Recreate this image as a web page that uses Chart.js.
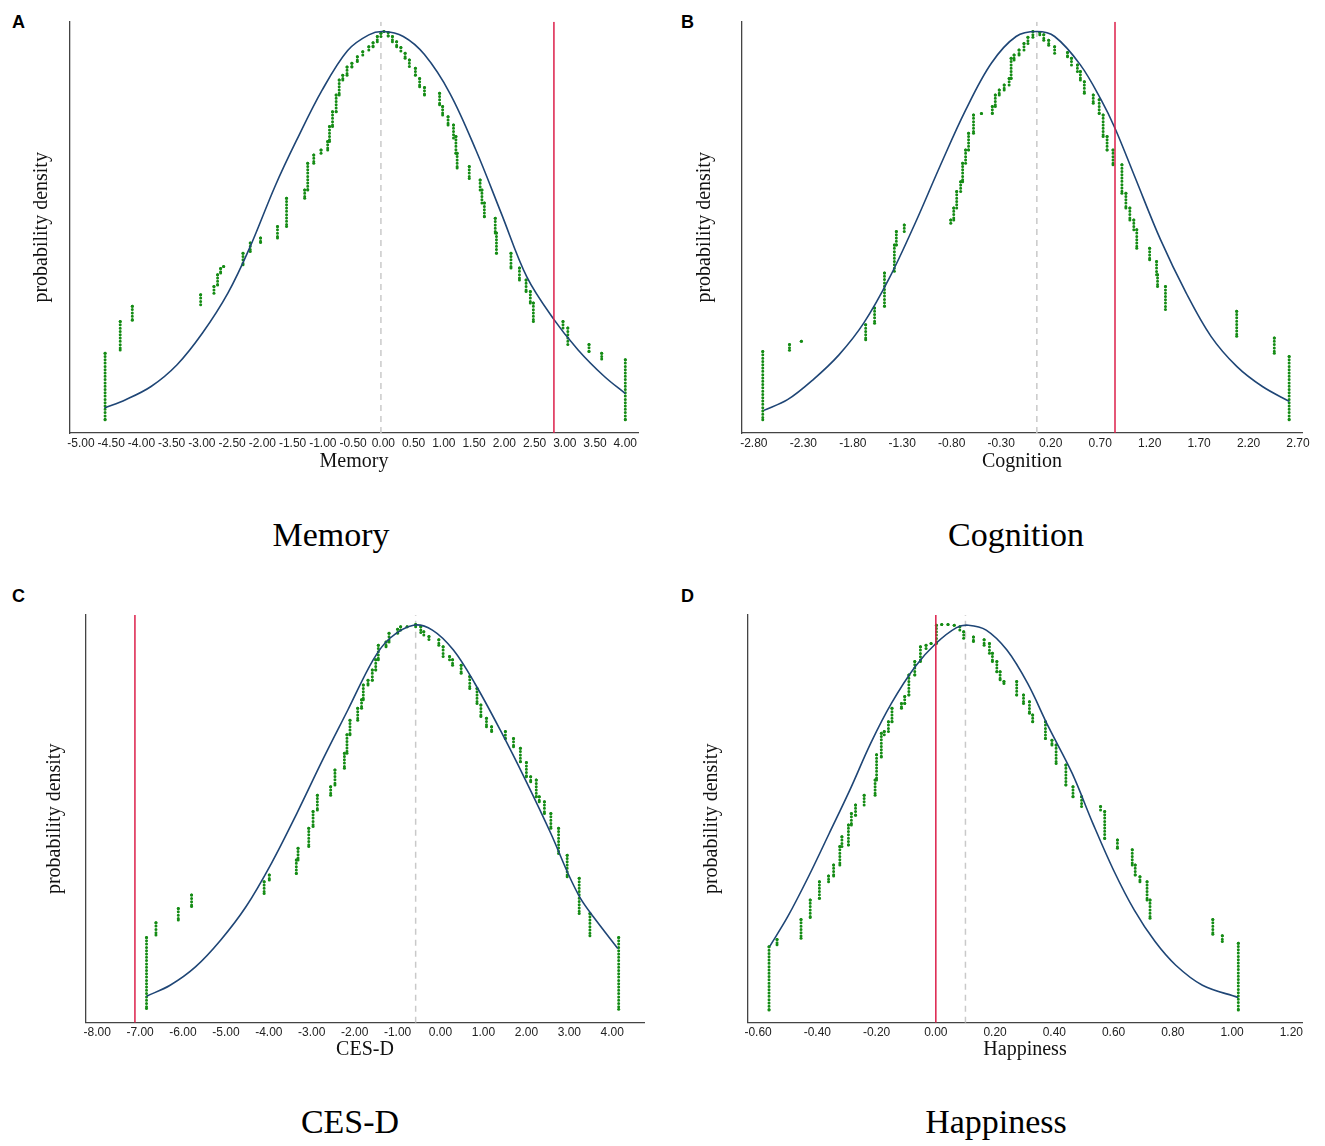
<!DOCTYPE html>
<html>
<head>
<meta charset="utf-8">
<script src="https://cdn.jsdelivr.net/npm/chart.js@4.4.0/dist/chart.umd.min.js"></script>
<style>
  body { margin: 0; background: #fff; width: 1325px; height: 1146px; position: relative; overflow: hidden; }
  .letter { position: absolute; font: bold 18px "Liberation Sans", Arial, sans-serif; line-height: 18px; color: #000; }
  .big { position: absolute; font: 34px "Liberation Serif", "Times New Roman", serif; line-height: 34px; color: #000; transform: translateX(-50%); white-space: nowrap; }
</style>
</head>
<body>
<div class="letter" style="left:12px;top:13px">A</div>
<div class="letter" style="left:681px;top:13px">B</div>
<div class="letter" style="left:12px;top:587px">C</div>
<div class="letter" style="left:681px;top:587px">D</div>
<div class="big" style="left:331px;top:518px">Memory</div>
<div class="big" style="left:1016px;top:518px">Cognition</div>
<div class="big" style="left:350px;top:1105px">CES-D</div>
<div class="big" style="left:996px;top:1105px">Happiness</div>

<script>
// Memory (A): columns of stacked dots, x position, top and bottom height
const memColX = [-4.6, -4.35, -4.15, -3.02, -2.8, -2.74, -2.69, -2.64, -2.32, -2.2,
  -2.03, -1.75, -1.6, -1.3, -1.25, -1.15, -1.03, -0.92, -0.89, -0.84,
  -0.78, -0.73, -0.67, -0.6, -0.52, -0.43, -0.34, -0.24, -0.17, -0.1,
  -0.04, 0.01, 0.08, 0.15, 0.22, 0.29, 0.36, 0.43, 0.53, 0.6,
  0.68, 0.93, 0.98, 1.07, 1.16, 1.2, 1.22, 1.42, 1.6, 1.63,
  1.67, 1.85, 1.87, 2.11, 2.25, 2.36, 2.43, 2.48, 2.97, 3.05,
  3.4, 3.61, 4.0];
const memTop = [19.4, 27.1, 30.8, 33.6, 35.6, 38.5, 40, 40.5, 43.7, 46.2,
  47.4, 50.2, 57.1, 59.1, 65.6, 67.6, 68.8, 70.9, 74.5, 78.1,
  82.2, 85.8, 87, 89, 89.9, 91.5, 92.7, 93.9, 94.9, 96.4,
  97.2, 97.6, 97.4, 96.4, 95.1, 93.7, 92.3, 90.7, 88.7, 86.2,
  84, 82.6, 79.4, 76.9, 74.9, 72.1, 68, 64.8, 61.5, 59.1,
  55.9, 52.2, 48.6, 43.7, 40.1, 37.2, 34.4, 31.6, 27.1, 25.5,
  21.5, 19.4, 17.8];
const memBottom = [3.2, 20.2, 27.4, 31.2, 34, 36, 38.9, 40.5, 40.9, 44.1,
  46.3, 47.4, 50.2, 57.1, 59.1, 65.6, 68, 68.8, 70.9, 74.5,
  78.1, 82.2, 85.8, 87, 89, 90.3, 91.9, 93.1, 93.9, 95.1,
  96.4, 97.6, 96.5, 95.1, 93.9, 92.9, 91.1, 89.1, 87, 84.2,
  82.2, 79.8, 77.3, 74.9, 71.7, 68, 64.4, 61.9, 59.1, 55.9,
  52.6, 48.6, 43.7, 40.1, 37.2, 34.4, 31.6, 27.1, 25.5, 21.5,
  19.8, 18, 3.2];
const memCurveX = [-4.61, -4.26, -3.84, -3.41, -2.99, -2.57, -2.21, -1.79, -1.44, -1.01, -0.59, -0.24, 0,
  0.33, 0.68, 1.1, 1.53, 1.95, 2.37, 2.8, 3.22, 3.65, 4.0];
const memCurveY = [6.1, 8.1, 11.3, 16.6, 24.3, 34, 45, 60, 71, 83.4, 93, 96.8, 97.6,
  96.4, 92, 82.6, 68.8, 53.4, 38, 28, 20.2, 13.8, 9.6];
const memTicks = [-5, -4.5, -4, -3.5, -3, -2.5, -2, -1.5, -1, -0.5, 0, 0.5, 1, 1.5, 2, 2.5, 3, 3.5, 4];
const memMean = -0.04;
const memCut = 2.82;

// Cognition (B)
const cogColX = [-2.71, -2.44, -2.32, -1.67, -1.58, -1.48, -1.38, -1.36, -1.28, -0.81,
  -0.78, -0.75, -0.71, -0.69, -0.66, -0.63, -0.58, -0.5, -0.39, -0.36,
  -0.32, -0.27, -0.22, -0.2, -0.17, -0.12, -0.07, -0.03, 0.02, 0.09,
  0.13, 0.18, 0.24, 0.37, 0.41, 0.47, 0.5, 0.54, 0.63, 0.69,
  0.73, 0.77, 0.83, 0.92, 0.96, 1.0, 1.04, 1.07, 1.2, 1.27,
  1.28, 1.36, 2.08, 2.46, 2.61];
const cogTop = [19.8, 21.5, 22.3, 26.3, 30.4, 38.9, 45.7, 49, 50.6, 51.8,
  54.7, 58.7, 61.1, 65.6, 68.8, 72.9, 77.3, 77.7, 79.4, 82.2,
  83.4, 84.6, 86.2, 91.1, 91.9, 93.1, 94.7, 96.2, 97.6, 97.4,
  96.8, 95.5, 93.9, 92.5, 91.1, 89.5, 87.9, 85.4, 82.2, 81,
  77.3, 72.1, 68.8, 65.2, 58.3, 54.7, 51.8, 49.4, 44.9, 41.7,
  38.5, 35.6, 29.6, 23.1, 18.6];
const cogBottom = [3.2, 20.1, 22.3, 22.7, 26.7, 30.8, 39.3, 45.7, 49, 51,
  51.8, 54.7, 58.7, 61.1, 65.6, 68.8, 72.9, 77.7, 77.7, 79.4,
  82.2, 83.4, 84.6, 86.2, 90.7, 91.9, 93.1, 94.7, 96.2, 96.8,
  95.5, 94.3, 92.3, 91.5, 89.5, 87.9, 85.8, 82.6, 80.2, 77.7,
  72.1, 68.8, 65.2, 58.3, 54.7, 51.8, 49.4, 44.9, 42.1, 38.5,
  35.6, 30, 23.5, 19.4, 3.2];
const cogCurveX = [-2.7, -2.46, -2.2, -1.94, -1.69, -1.43, -1.17, -0.92, -0.66, -0.4, -0.15, 0.06,
  0.24, 0.5, 0.71, 0.85, 1.05, 1.31, 1.57, 1.82, 2.08, 2.34, 2.61];
const cogCurveY = [5.5, 8.1, 13, 19, 26.7, 37.7, 51, 64.8, 78.5, 89.9, 96.4, 97.6,
  96.4, 89.5, 81, 74.1, 62.3, 47, 34, 23.5, 16.2, 11.3, 7.7];
const cogTicks = [-2.8, -2.3, -1.8, -1.3, -0.8, -0.3, 0.2, 0.7, 1.2, 1.7, 2.2, 2.7];
const cogMean = 0.06;
const cogCut = 0.85;

// CES-D (C)
const cesColX = [-6.85, -6.63, -6.11, -5.8, -4.11, -3.99, -3.36, -3.32, -3.07, -2.97,
  -2.87, -2.56, -2.46, -2.24, -2.18, -2.11, -1.93, -1.84, -1.8, -1.69,
  -1.59, -1.51, -1.45, -1.27, -1.2, -1.0, -0.93, -0.78, -0.58, -0.46,
  -0.39, -0.27, -0.04, 0.06, 0.21, 0.28, 0.48, 0.68, 0.85, 0.94,
  1.07, 1.19, 1.51, 1.7, 1.86, 2.0, 2.1, 2.23, 2.3, 2.42,
  2.57, 2.75, 2.95, 3.23, 3.48, 4.15];
const cesTop = [20.9, 24.5, 28, 31.3, 34.6, 36.2, 39.9, 42.8, 47.7, 51.8,
  55.8, 57.9, 62, 66.1, 70.6, 74.2, 77.1, 79.2, 82.8, 84,
  86.5, 89, 92.6, 93.4, 95.5, 96.5, 97.1, 97.1, 97.7, 97.1,
  95.9, 94.7, 93.9, 92.2, 89.8, 89, 87.7, 84.9, 82, 77.9,
  74.7, 72.6, 71.4, 69.7, 67.3, 63.8, 60.3, 59.5, 55.4, 54.2,
  51.3, 47.7, 41.1, 35.4, 26.8, 20.9];
const cesBottom = [3.5, 21.5, 25.2, 28.5, 31.7, 35, 36.6, 39.9, 43.2, 48.1,
  52.2, 55.8, 58.3, 62.4, 66.1, 70.6, 74.2, 77.1, 79.2, 82.8,
  84, 86.5, 89, 92.2, 93.4, 95.5, 96.3, 97.1, 97.1, 95.7,
  95.1, 94, 92.6, 89.8, 89, 87.7, 85.7, 82, 78.3, 75.1,
  72.6, 71.4, 69.7, 67.7, 64, 60.3, 59.1, 55.4, 54.2, 51.3,
  47.7, 41.5, 35.8, 26.8, 21.3, 3.3];
const cesCurveX = [-6.85, -6.3, -5.71, -5.12, -4.53, -3.94, -3.35, -2.75, -2.16, -1.57, -1.18, -0.63,
  -0.19, 0.3, 0.8, 1.39, 1.98, 2.57, 2.97, 3.26, 3.56, 4.13];
const cesCurveY = [6.5, 9.2, 13.7, 20.3, 28.5, 39.1, 51.3, 64.4, 76.7, 89, 94.3, 97.5,
  96.3, 91.4, 83.2, 71.8, 59.5, 46.4, 36.6, 30.5, 26, 18.2];
const cesTicks = [-8, -7, -6, -5, -4, -3, -2, -1, 0, 1, 2, 3, 4];
const cesMean = -0.58;
const cesCut = -7.12;

// Happiness (D)
const hapColX = [-0.563, -0.536, -0.455, -0.424, -0.393, -0.362, -0.345, -0.324, -0.317, -0.295,
  -0.285, -0.271, -0.242, -0.205, -0.2, -0.184, -0.174, -0.16, -0.148, -0.116,
  -0.105, -0.091, -0.071, -0.052, -0.033, -0.016, 0.002, 0.02, 0.041, 0.062,
  0.081, 0.094, 0.127, 0.163, 0.181, 0.191, 0.206, 0.217, 0.23, 0.273,
  0.296, 0.316, 0.327, 0.37, 0.392, 0.406, 0.439, 0.463, 0.492, 0.556,
  0.57, 0.613, 0.663, 0.673, 0.689, 0.713, 0.723, 0.935, 0.967, 1.021];
const hapTop = [18.6, 20.4, 25.3, 30.1, 34.6, 36, 38.7, 43.2, 45.6, 48.5,
  51.3, 53.4, 55.8, 59.5, 65.7, 71, 71.4, 73.8, 77.1, 78.3,
  80, 85.3, 88.6, 92.2, 92.6, 93, 97.5, 97.7, 97.7, 97.5,
  97.1, 95.9, 94.6, 93.9, 93, 90.6, 88.6, 86.1, 83.7, 83.7,
  80.4, 78.7, 75.5, 73.8, 69.3, 68.1, 63.2, 57.9, 55.4, 53,
  51.8, 44.8, 42.4, 38.7, 35.8, 34.6, 30.1, 25.3, 21.3, 19.5];
const hapBottom = [3.1, 19.1, 20.7, 25.8, 30.5, 34.6, 36, 38.7, 43.2, 43.6,
  48.5, 50.9, 53.4, 55.8, 59.5, 65.2, 70.6, 71.4, 73.8, 77.1,
  78.3, 80.4, 85.3, 88.6, 91.8, 93, 93, 97.7, 97.7, 97.5,
  96.3, 94.3, 93.5, 92.6, 90.6, 88.6, 86.1, 84.1, 83.2, 80.4,
  78.3, 75.9, 73.8, 69.7, 68.1, 63.6, 58.3, 55.4, 53, 52.2,
  45.2, 42.8, 38.7, 36.2, 34.6, 30.1, 25.6, 21.7, 19.9, 3.1];
const hapCurveX = [-0.56, -0.5, -0.43, -0.36, -0.29, -0.22, -0.15, -0.07, 0.0, 0.07, 0.11,
  0.17, 0.24, 0.31, 0.38, 0.46, 0.53, 0.6, 0.67, 0.74, 0.81, 0.9, 1.02];
const hapCurveY = [18.8, 26, 35.8, 46.4, 57.1, 68.5, 78.3, 87.3, 93, 96.9, 97.5,
  96.3, 91.4, 83.2, 72.6, 61.2, 48.9, 37.4, 27.6, 19.9, 14.1, 9.2, 6.2];
const hapTicks = [-0.6, -0.4, -0.2, 0, 0.2, 0.4, 0.6, 0.8, 1.0, 1.2];
const hapMean = 0.10;
const hapCut = 0.0;

// Colores
const green = '#158c15';
const navy = '#1f4676';
const red = '#dc1f4a';
const grey = '#c9c9c9';
const axisColor = '#444';
const titleSize = 20;

// Columns of dots: top, bottom, then a gap
function columnPoints(xs, tops, bottoms) {
    const pts = [];
    xs.forEach((x, i) => {
        pts.push({ x: x, y: tops[i] });
        pts.push({ x: x, y: bottoms[i] });
        pts.push({ x: x, y: null });
    });
    return pts;
}

function zip(xs, ys) {
    return xs.map((x, i) => ({ x: x, y: ys[i] }));
}

function vline(x) {
    return [{ x: x, y: 0 }, { x: x, y: 100 }];
}

function makePanel(p) {
    const wrap = document.createElement('div');
    wrap.style.cssText = `position:absolute;left:${p.box[0]}px;top:${p.box[1]}px;width:${p.box[2]}px;height:${p.box[3]}px`;
    const canvas = document.createElement('canvas');
    wrap.appendChild(canvas);
    document.body.appendChild(wrap);

    const half = titleSize * 1.2 / 2;
    const yWidth = p.area.left - (p.yTitleX - half);
    const xHeight = (p.xTitleY + half) - p.area.bottom;

    new Chart(canvas, {
        type: 'scatter',
        data: {
            datasets: [
                {
                    data: vline(p.cut),
                    showLine: true,
                    borderColor: red,
                    borderWidth: 1.5,
                    pointRadius: 0,
                    order: 0
                },
                {
                    data: zip(p.curveX, p.curveY),
                    showLine: true,
                    borderColor: navy,
                    borderWidth: 1.6,
                    pointRadius: 0,
                    tension: 0.35,
                    order: 1
                },
                {
                    data: columnPoints(p.colX, p.top, p.bottom),
                    showLine: true,
                    spanGaps: false,
                    borderColor: green,
                    borderWidth: 3,
                    borderDash: [0, 3.3],
                    borderCapStyle: 'round',
                    pointRadius: 1.5,
                    pointBorderWidth: 0,
                    pointBackgroundColor: green,
                    order: 2
                },
                {
                    data: vline(p.mean),
                    showLine: true,
                    borderColor: grey,
                    borderWidth: 1.5,
                    borderDash: [6, 5],
                    pointRadius: 0,
                    order: 3
                }
            ]
        },
        options: {
            responsive: true,
            maintainAspectRatio: false,
            animation: false,
            events: [],
            layout: {
                padding: {
                    left: p.yTitleX - half - p.box[0],
                    top: p.area.top - p.box[1],
                    right: p.box[0] + p.box[2] - p.area.right,
                    bottom: p.box[1] + p.box[3] - (p.xTitleY + half)
                }
            },
            plugins: {
                legend: { display: false },
                tooltip: { enabled: false }
            },
            scales: {
                x: {
                    type: 'linear',
                    min: p.min,
                    max: p.max,
                    afterBuildTicks: (scale) => {
                        scale.ticks = p.ticks.map(v => ({ value: v }));
                    },
                    afterFit: (scale) => { scale.height = xHeight; },
                    grid: { display: false, drawTicks: false },
                    border: { display: true, color: axisColor, width: 1.3 },
                    ticks: {
                        autoSkip: false,
                        maxRotation: 0,
                        padding: 3,
                        color: '#222',
                        font: { family: '"Liberation Sans", Arial, sans-serif', size: 12 },
                        callback: (v) => Number(v).toFixed(2)
                    },
                    title: {
                        display: true,
                        text: p.xTitle,
                        color: '#111',
                        padding: 0,
                        font: { family: '"Liberation Serif", "Times New Roman", serif', size: titleSize }
                    }
                },
                y: {
                    min: 0,
                    max: 100,
                    afterFit: (scale) => { scale.width = yWidth; },
                    grid: { display: false, drawTicks: false },
                    border: { display: true, color: axisColor, width: 1.3 },
                    ticks: { display: false },
                    title: {
                        display: true,
                        text: 'probability density',
                        color: '#111',
                        padding: 0,
                        font: { family: '"Liberation Serif", "Times New Roman", serif', size: titleSize }
                    }
                }
            }
        }
    });
}

makePanel({
    box: [0, 0, 662, 490], area: { left: 70, right: 638, top: 21.7, bottom: 433 },
    yTitleX: 42, xTitleY: 462, xTitle: 'Memory', min: -5.18, max: 4.21,
    colX: memColX, top: memTop, bottom: memBottom, curveX: memCurveX, curveY: memCurveY,
    ticks: memTicks, mean: memMean, cut: memCut
});
makePanel({
    box: [662, 0, 663, 490], area: { left: 742, right: 1302, top: 21.7, bottom: 433 },
    yTitleX: 704.5, xTitleY: 462, xTitle: 'Cognition', min: -2.92, max: 2.74,
    colX: cogColX, top: cogTop, bottom: cogBottom, curveX: cogCurveX, curveY: cogCurveY,
    ticks: cogTicks, mean: cogMean, cut: cogCut
});
makePanel({
    box: [0, 570, 662, 500], area: { left: 86, right: 644, top: 615, bottom: 1022.7 },
    yTitleX: 55, xTitleY: 1050, xTitle: 'CES-D', min: -8.26, max: 4.74,
    colX: cesColX, top: cesTop, bottom: cesBottom, curveX: cesCurveX, curveY: cesCurveY,
    ticks: cesTicks, mean: cesMean, cut: cesCut
});
makePanel({
    box: [662, 570, 663, 500], area: { left: 748, right: 1302, top: 615, bottom: 1022.7 },
    yTitleX: 711.7, xTitleY: 1050, xTitle: 'Happiness', min: -0.634, max: 1.236,
    colX: hapColX, top: hapTop, bottom: hapBottom, curveX: hapCurveX, curveY: hapCurveY,
    ticks: hapTicks, mean: hapMean, cut: hapCut
});
</script>
</body>
</html>
